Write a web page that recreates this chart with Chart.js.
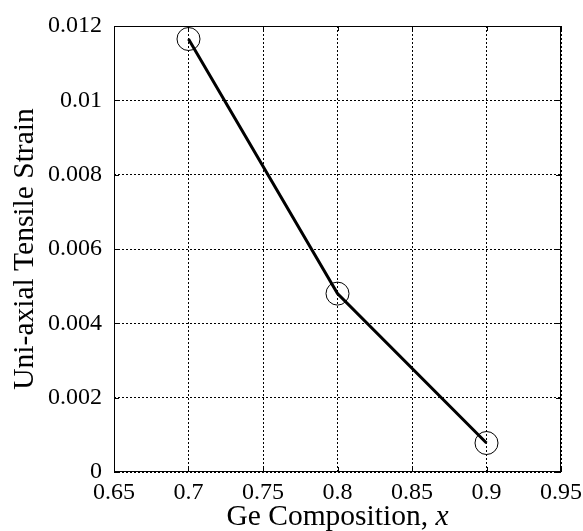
<!DOCTYPE html>
<html>
<head>
<meta charset="utf-8">
<script src="https://cdn.jsdelivr.net/npm/chart.js@4"></script>
<style>
  html, body { margin: 0; padding: 0; background: #fff; }
  #wrap { width: 583px; height: 531px; }
</style>
</head>
<body>
<div id="wrap"><canvas id="c" width="583" height="531"></canvas></div>
<script>
// Ge composition vs uni-axial tensile strain
const composition = [0.7, 0.8, 0.9];
const strain = [0.01165, 0.0048, 0.00078];
const xTicks = [0.65, 0.7, 0.75, 0.8, 0.85, 0.9, 0.95];
const xTickLabels = ['0.65', '0.7', '0.75', '0.8', '0.85', '0.9', '0.95'];
const yTicks = [0, 0.002, 0.004, 0.006, 0.008, 0.01, 0.012];
const yTickLabels = ['0', '0.002', '0.004', '0.006', '0.008', '0.01', '0.012'];
const xTitle = 'Ge Composition, ';
const xTitleVar = 'x';
const yTitle = 'Uni-axial Tensile Strain';

const SERIF = '"Liberation Serif", "Times New Roman", serif';
const TITLE_SIZE = 29.5;

function labelFor(values, labels, v) {
  const i = values.findIndex(t => Math.abs(t - v) < 1e-9);
  return i >= 0 ? labels[i] : '';
}

// Frame, inner tick marks and axis titles
const framePlugin = {
  id: 'frame',
  afterDraw(chart) {
    const { ctx, chartArea: a, scales } = chart;
    ctx.save();
    ctx.strokeStyle = '#000';
    ctx.lineWidth = 1;
    ctx.strokeRect(a.left + 0.5, a.top + 0.5, a.right - a.left - 1, a.bottom - a.top - 1);
    // inward tick marks on all four sides
    ctx.beginPath();
    xTicks.forEach(v => {
      const x = Math.round(scales.x.getPixelForValue(v)) + 0.5;
      ctx.moveTo(x, a.bottom); ctx.lineTo(x, a.bottom - 5);
      ctx.moveTo(x, a.top); ctx.lineTo(x, a.top + 5);
    });
    yTicks.forEach(v => {
      const y = Math.round(scales.y.getPixelForValue(v)) + 0.5;
      ctx.moveTo(a.left, y); ctx.lineTo(a.left + 5, y);
      ctx.moveTo(a.right, y); ctx.lineTo(a.right - 5, y);
    });
    ctx.stroke();

    ctx.fillStyle = '#000';
    // x-axis title with italic variable
    ctx.textBaseline = 'alphabetic';
    ctx.font = TITLE_SIZE + 'px ' + SERIF;
    const w1 = ctx.measureText(xTitle).width;
    ctx.font = 'italic ' + TITLE_SIZE + 'px ' + SERIF;
    const w2 = ctx.measureText(xTitleVar).width;
    const cx = (a.left + a.right) / 2;
    const sx = cx - (w1 + w2) / 2;
    ctx.font = TITLE_SIZE + 'px ' + SERIF;
    ctx.textAlign = 'left';
    ctx.fillText(xTitle, sx, 525);
    ctx.font = 'italic ' + TITLE_SIZE + 'px ' + SERIF;
    ctx.fillText(xTitleVar, sx + w1, 525);

    // y-axis title
    ctx.translate(33, (a.top + a.bottom) / 2);
    ctx.rotate(-Math.PI / 2);
    ctx.font = TITLE_SIZE + 'px ' + SERIF;
    ctx.textAlign = 'center';
    ctx.fillText(yTitle, 0, 0);
    ctx.restore();
  }
};

new Chart(document.getElementById('c'), {
  type: 'scatter',
  data: {
    datasets: [{
      data: composition.map((x, i) => ({ x: x, y: strain[i] })),
      showLine: true,
      borderColor: '#000',
      borderWidth: 3,
      pointStyle: 'circle',
      pointRadius: 11.5,
      pointBorderWidth: 1,
      pointBorderColor: '#000',
      pointBackgroundColor: 'rgba(0,0,0,0)',
      pointHoverRadius: 11.5,
      tension: 0
    }]
  },
  options: {
    responsive: false,
    animation: false,
    devicePixelRatio: 1,
    layout: { padding: { top: 26, right: 22, left: 0, bottom: 0 } },
    plugins: { legend: { display: false }, tooltip: { enabled: false } },
    scales: {
      x: {
        type: 'linear',
        min: 0.65, max: 0.95,
        afterBuildTicks(scale) { scale.ticks = xTicks.map(v => ({ value: v })); },
        afterFit(scale) {
          scale.height = 59;
          scale.paddingLeft = 0;
          scale.paddingRight = 0;
        },
        grid: { color: '#000', lineWidth: 1, drawTicks: false },
        border: { display: false, dash: [2, 2] },
        ticks: {
          color: '#000', padding: 6, maxRotation: 0, autoSkip: false,
          font: { family: SERIF, size: 24 },
          callback: v => labelFor(xTicks, xTickLabels, v)
        }
      },
      y: {
        type: 'linear',
        min: 0, max: 0.012,
        afterBuildTicks(scale) { scale.ticks = yTicks.map(v => ({ value: v })); },
        afterFit(scale) {
          scale.width = 114;
          scale.paddingTop = 0;
          scale.paddingBottom = 0;
        },
        grid: { color: '#000', lineWidth: 1, drawTicks: false },
        border: { display: false, dash: [2, 2] },
        ticks: {
          color: '#000', padding: 12,
          font: { family: SERIF, size: 24 },
          callback: v => labelFor(yTicks, yTickLabels, v)
        }
      }
    }
  },
  plugins: [framePlugin]
});
</script>
</body>
</html>
